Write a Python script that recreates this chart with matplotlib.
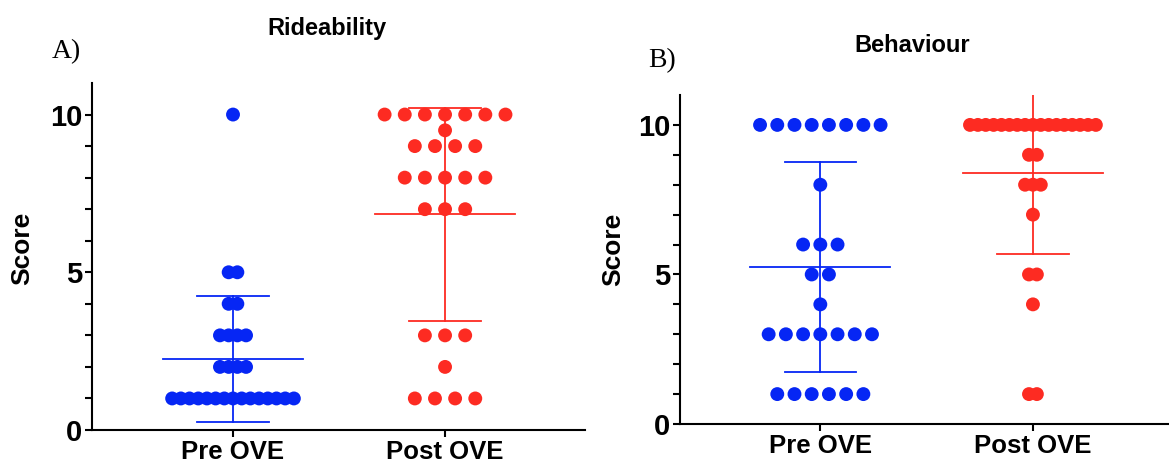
import matplotlib
matplotlib.use("Agg")
from matplotlib import pyplot as plt
import numpy as np

## DATA
groups = ["Pre OVE", "Post OVE"]

# Rideability scores (value levels and how many horses at each)
ride_pre_vals = [10, 5, 4, 3, 2, 1]
ride_pre_counts = [1, 2, 2, 4, 4, 15]
ride_post_vals = [10, 9.5, 9, 8, 7, 3, 2, 1]
ride_post_counts = [7, 1, 4, 5, 3, 3, 1, 4]

# Behaviour scores
beh_pre_vals = [10, 8, 6, 5, 4, 3, 1]
beh_pre_counts = [8, 1, 3, 2, 1, 7, 6]
beh_post_vals = [10, 9, 8, 7, 5, 4, 1]
beh_post_counts = [17, 2, 3, 1, 2, 1, 2]

BLUE = "#0626f4"
RED = "#fd2b22"
FONT = "Liberation Sans"

plt.rcParams['font.family'] = [FONT, 'DejaVu Sans']


def expand(vals, counts):
    return np.repeat(np.array(vals, dtype=float), counts)


def draw_group(ax, xpos, vals, counts, color, spacing):
    ## scatter, each value level laid out as a centred row
    for v, n in zip(vals, counts):
        offs = (np.arange(n) - (n - 1) / 2.0) * spacing
        ax.scatter(xpos + offs, np.full(n, v), s=100, color=color,
                   edgecolors='none', zorder=3, clip_on=False)
    ## mean +/- SD (clipped at the top of the axis like the original)
    data = expand(vals, counts)
    mean = data.mean()
    sd = data.std(ddof=1)
    lw = 1.3
    ax.plot([xpos - 0.33, xpos + 0.33], [mean, mean], color=color, lw=lw, zorder=4)
    ax.plot([xpos, xpos], [mean - sd, mean + sd], color=color, lw=lw, zorder=4)
    for y in (mean - sd, mean + sd):
        ax.plot([xpos - 0.168, xpos + 0.168], [y, y], color=color, lw=lw, zorder=4)


def style_axes(ax, xlim):
    ax.set_xlim(*xlim)
    ax.set_ylim(0, 11)
    for s in ('top', 'right'):
        ax.spines[s].set_visible(False)
    for s in ('left', 'bottom'):
        ax.spines[s].set_linewidth(1.5)
    ax.set_yticks(range(0, 11))
    ax.set_yticklabels([str(i) if i % 5 == 0 else '' for i in range(0, 11)])
    ax.set_xticks([0, 1])
    ax.set_xticklabels(groups)
    ax.tick_params(axis='both', length=5, width=1.5, pad=2)
    for lab in ax.get_yticklabels():
        lab.set_fontsize(21)
        lab.set_fontweight('bold')
    for lab in ax.get_xticklabels():
        lab.set_fontsize(18.5)
        lab.set_fontweight('bold')


fig = plt.figure(figsize=(11.69, 4.65), dpi=100)

## PANEL A
axA = fig.add_axes([92 / 1169, 35 / 465, 493 / 1169, 347 / 465])
draw_group(axA, 0, ride_pre_vals, ride_pre_counts, BLUE, 0.041)
draw_group(axA, 1, ride_post_vals, ride_post_counts, RED, 0.095)
style_axes(axA, (-0.665, 1.66))

## PANEL B
axB = fig.add_axes([680 / 1169, 41 / 465, 489 / 1169, 329 / 465])
draw_group(axB, 0, beh_pre_vals, beh_pre_counts, BLUE, 0.081)
draw_group(axB, 1, beh_post_vals, beh_post_counts, RED, 0.037)
style_axes(axB, (-0.66, 1.64))

## TEXT
fig.text(327 / 1169, 1 - 28 / 465, "Rideability", ha='center', va='center',
         fontsize=17, fontweight='bold')
fig.text(912 / 1169, 1 - 45 / 465, "Behaviour", ha='center', va='center',
         fontsize=17, fontweight='bold')
fig.text(22 / 1169, 1 - 248 / 465, "Score", ha='center', va='center',
         rotation=90, fontsize=19, fontweight='bold')
fig.text(613 / 1169, 1 - 249 / 465, "Score", ha='center', va='center',
         rotation=90, fontsize=19, fontweight='bold')
fig.text(52 / 1169, 1 - 58 / 465, "A)", ha='left', va='baseline',
         fontsize=20, family=['Liberation Serif', 'DejaVu Serif'])
fig.text(648 / 1169, 1 - 67 / 465, "B)", ha='left', va='baseline',
         fontsize=20, family=['Liberation Serif', 'DejaVu Serif'])

fig.savefig("out.png", dpi=100)
